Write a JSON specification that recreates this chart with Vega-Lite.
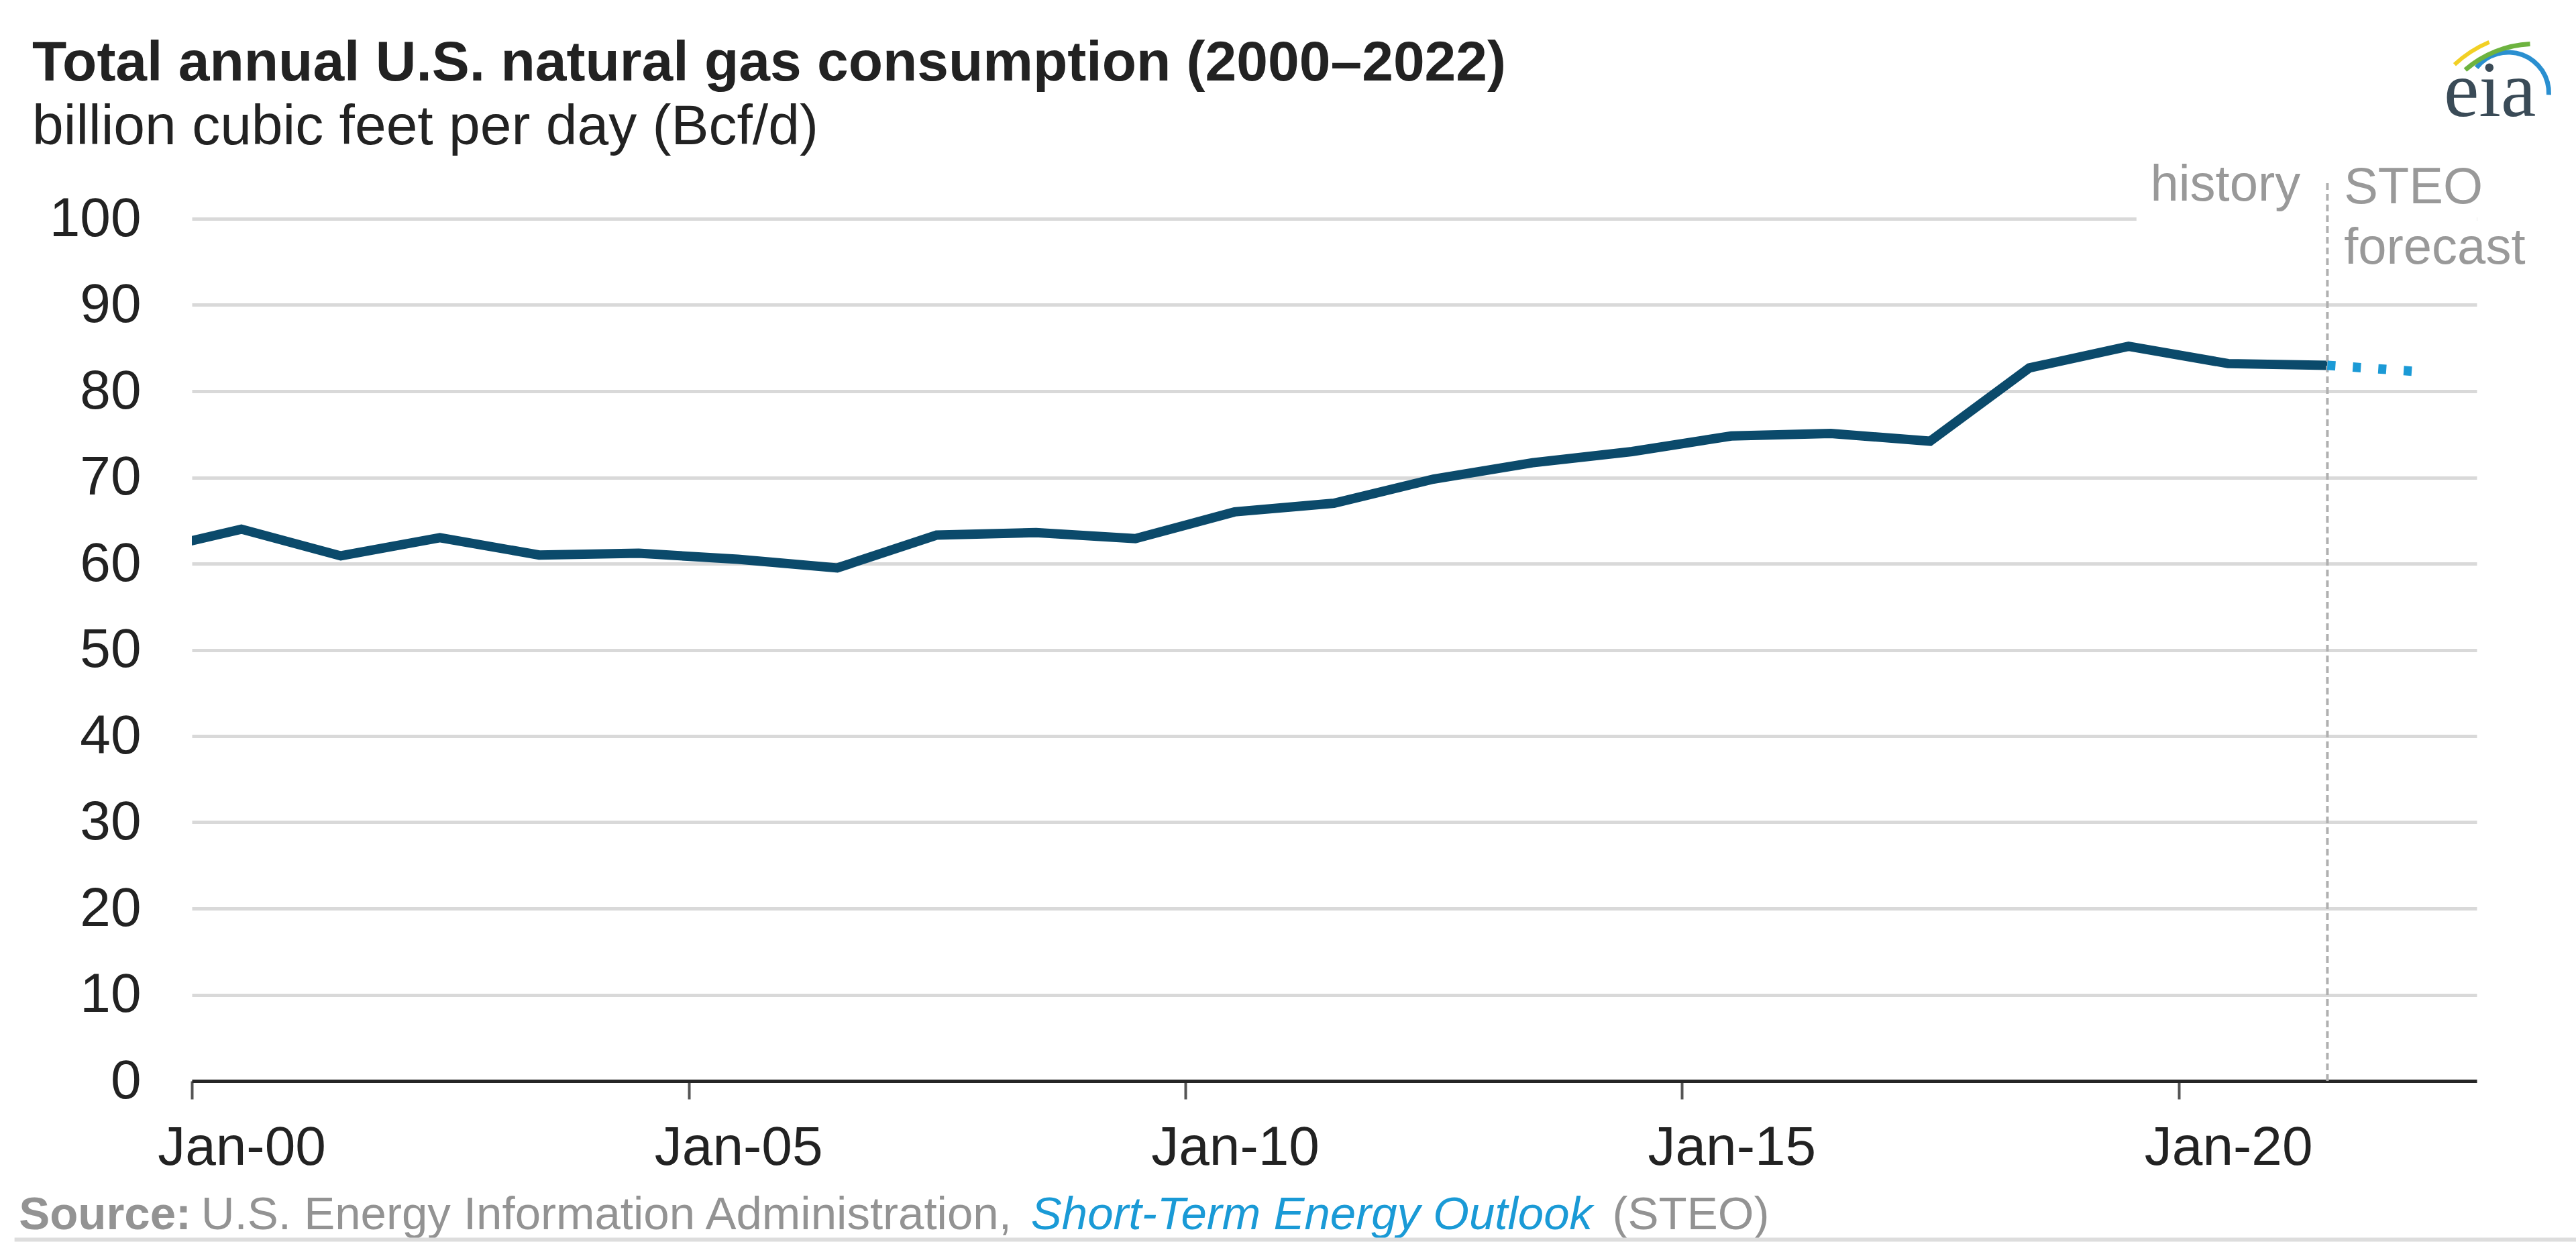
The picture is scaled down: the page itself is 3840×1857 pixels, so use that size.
{
  "$schema": "https://vega.github.io/schema/vega-lite/v6.json",
  "autosize": {"type": "none"},
  "width": 3406,
  "height": 1285,
  "padding": {"left": 286, "top": 326, "right": 148, "bottom": 246},
  "background": "white",
  "config": {"view": {"stroke": null}, "font": "Liberation Sans"},
  "title": {
    "text": "Total annual U.S. natural gas consumption (2000–2022)",
    "subtitle": "billion cubic feet per day (Bcf/d)",
    "anchor": "start",
    "frame": "group",
    "dx": -238,
    "offset": -173,
    "font": "Liberation Sans",
    "fontSize": 84,
    "fontWeight": "bold",
    "color": "#222222",
    "subtitleFont": "Liberation Sans",
    "subtitleFontSize": 84,
    "subtitleColor": "#222222",
    "subtitlePadding": 11
  },
  "resolve": {"axis": {"x": "independent", "y": "independent"}},
  "datasets": {
    "history": [
      {"date": "1999-07-01", "value": 61.3},
      {"date": "2000-07-01", "value": 64.0},
      {"date": "2001-07-01", "value": 60.9},
      {"date": "2002-07-01", "value": 63.0},
      {"date": "2003-07-01", "value": 61.0},
      {"date": "2004-07-01", "value": 61.2},
      {"date": "2005-07-01", "value": 60.5},
      {"date": "2006-07-01", "value": 59.5},
      {"date": "2007-07-01", "value": 63.3},
      {"date": "2008-07-01", "value": 63.6},
      {"date": "2009-07-01", "value": 62.9},
      {"date": "2010-07-01", "value": 66.0},
      {"date": "2011-07-01", "value": 67.0},
      {"date": "2012-07-01", "value": 69.8},
      {"date": "2013-07-01", "value": 71.7},
      {"date": "2014-07-01", "value": 73.0},
      {"date": "2015-07-01", "value": 74.8},
      {"date": "2016-07-01", "value": 75.1},
      {"date": "2017-07-01", "value": 74.2},
      {"date": "2018-07-01", "value": 82.7},
      {"date": "2019-07-01", "value": 85.2},
      {"date": "2020-07-01", "value": 83.2},
      {"date": "2021-07-01", "value": 83.0}
    ],
    "forecast": [
      {"date": "2021-07-01", "value": 83.0},
      {"date": "2022-07-01", "value": 82.2}
    ]
  },
  "layer": [
    {
      "data": {"name": "history"},
      "mark": {"type": "line", "clip": true, "color": "#0b4a6b", "strokeWidth": 14},
      "encoding": {
        "x": {
          "field": "date",
          "type": "temporal",
          "scale": {
            "type": "utc",
            "domain": [
              {"year": 2000, "month": 1, "date": 1, "utc": true},
              {"year": 2023, "month": 1, "date": 1, "utc": true}
            ]
          },
          "axis": {
            "values": [
              {"year": 2000, "month": 1, "date": 1, "utc": true},
              {"year": 2005, "month": 1, "date": 1, "utc": true},
              {"year": 2010, "month": 1, "date": 1, "utc": true},
              {"year": 2015, "month": 1, "date": 1, "utc": true},
              {"year": 2020, "month": 1, "date": 1, "utc": true}
            ],
            "labelExpr": "'Jan-' + utcFormat(datum.value, '%y')",
            "title": null,
            "grid": false,
            "domainColor": "#262626",
            "domainWidth": 5,
            "tickColor": "#555555",
            "tickWidth": 4,
            "tickSize": 27,
            "labelPadding": 32,
            "labelFont": "Liberation Sans",
            "labelFontSize": 82,
            "labelColor": "#222222",
            "labelOffset": 74,
            "labelLimit": 0,
            "labelFlush": false,
            "labelOverlap": false,
            "labelBound": false
          }
        },
        "y": {
          "field": "value",
          "type": "quantitative",
          "scale": {"domain": [0, 100], "nice": false, "zero": true},
          "axis": {
            "values": [0, 10, 20, 30, 40, 50, 60, 70, 80, 90, 100],
            "title": null,
            "domain": false,
            "ticks": false,
            "tickSize": 0,
            "labelPadding": 76,
            "labelFont": "Liberation Sans",
            "labelFontSize": 82,
            "labelColor": "#222222",
            "labelLimit": 0,
            "grid": true,
            "gridColor": "#d9d9d9",
            "gridWidth": 5
          }
        }
      }
    },
    {
      "data": {"values": [{"x": "2019-07-30", "x2": "2023-01-01", "y": 99.5, "y2": 100.5}]},
      "mark": {"type": "rect", "color": "white"},
      "encoding": {
        "x": {"field": "x", "type": "temporal", "axis": null},
        "x2": {"field": "x2"},
        "y": {"field": "y", "type": "quantitative", "axis": null},
        "y2": {"field": "y2"}
      }
    },
    {
      "data": {"values": [{}]},
      "mark": {"type": "rule", "color": "#b0b0b0", "strokeWidth": 4, "strokeDash": [10, 6]},
      "encoding": {
        "x": {"datum": {"year": 2021, "month": 7, "date": 1, "utc": true}, "type": "temporal", "axis": null},
        "y": {"datum": 0, "type": "quantitative", "axis": null},
        "y2": {"datum": 104.6}
      }
    },
    {
      "data": {"name": "forecast"},
      "mark": {"type": "line", "color": "#1b9ad6", "strokeWidth": 14, "strokeDash": [12, 26], "strokeCap": "butt"},
      "encoding": {
        "x": {"field": "date", "type": "temporal", "axis": null},
        "y": {"field": "value", "type": "quantitative", "axis": null}
      }
    },
    {
      "data": {"values": [{"label": "history"}]},
      "mark": {"type": "text", "align": "right", "baseline": "alphabetic", "font": "Liberation Sans", "fontSize": 76, "color": "#999999"},
      "encoding": {
        "x": {"datum": {"year": 2021, "month": 3, "date": 24, "utc": true}, "type": "temporal", "axis": null},
        "y": {"datum": 102.1, "type": "quantitative", "axis": null},
        "text": {"field": "label"}
      }
    },
    {
      "data": {"values": [{"label": "STEO\nforecast"}]},
      "mark": {"type": "text", "align": "left", "baseline": "alphabetic", "lineBreak": "\n", "lineHeight": 90, "font": "Liberation Sans", "fontSize": 76, "color": "#999999"},
      "encoding": {
        "x": {"datum": {"year": 2021, "month": 8, "date": 31, "utc": true}, "type": "temporal", "axis": null},
        "y": {"datum": 101.8, "type": "quantitative", "axis": null},
        "text": {"field": "label"}
      }
    },
    {
      "data": {"values": [{"label": "Source:"}]},
      "mark": {"type": "text", "align": "left", "baseline": "alphabetic", "font": "Liberation Sans", "fontSize": 69, "fontWeight": "bold", "color": "#939393"},
      "encoding": {
        "x": {"datum": {"year": 1998, "month": 4, "date": 5, "utc": true}, "type": "temporal", "axis": null},
        "y": {"datum": -17.2, "type": "quantitative", "axis": null},
        "text": {"field": "label"}
      }
    },
    {
      "data": {"values": [{"label": "U.S. Energy Information Administration,"}]},
      "mark": {"type": "text", "align": "left", "baseline": "alphabetic", "font": "Liberation Sans", "fontSize": 69, "color": "#939393"},
      "encoding": {
        "x": {"datum": {"year": 2000, "month": 2, "date": 4, "utc": true}, "type": "temporal", "axis": null},
        "y": {"datum": -17.2, "type": "quantitative", "axis": null},
        "text": {"field": "label"}
      }
    },
    {
      "data": {"values": [{"label": "Short-Term Energy Outlook"}]},
      "mark": {"type": "text", "align": "left", "baseline": "alphabetic", "font": "Liberation Sans", "fontSize": 69, "fontStyle": "italic", "color": "#1a9ad6"},
      "encoding": {
        "x": {"datum": {"year": 2008, "month": 6, "date": 12, "utc": true}, "type": "temporal", "axis": null},
        "y": {"datum": -17.2, "type": "quantitative", "axis": null},
        "text": {"field": "label"}
      }
    },
    {
      "data": {"values": [{"label": "(STEO)"}]},
      "mark": {"type": "text", "align": "left", "baseline": "alphabetic", "font": "Liberation Sans", "fontSize": 69, "color": "#939393"},
      "encoding": {
        "x": {"datum": {"year": 2014, "month": 4, "date": 20, "utc": true}, "type": "temporal", "axis": null},
        "y": {"datum": -17.2, "type": "quantitative", "axis": null},
        "text": {"field": "label"}
      }
    },
    {
      "data": {"values": [{}]},
      "mark": {"type": "rule", "color": "#dddddd", "strokeWidth": 6},
      "encoding": {
        "x": {"datum": {"year": 1998, "month": 3, "date": 20, "utc": true}, "type": "temporal", "axis": null},
        "x2": {"datum": {"year": 2024, "month": 1, "date": 1, "utc": true}},
        "y": {"datum": -18.4, "type": "quantitative", "axis": null}
      }
    },
    {
      "data": {"values": [{"label": "eia"}]},
      "mark": {"type": "text", "align": "left", "baseline": "alphabetic", "font": "Liberation Serif", "fontSize": 118, "color": "#3a4b57"},
      "encoding": {
        "x": {"datum": {"year": 2022, "month": 9, "date": 2, "utc": true}, "type": "temporal", "axis": null},
        "y": {"datum": 111.9, "type": "quantitative", "axis": null},
        "text": {"field": "label"}
      }
    },
    {
      "data": {"values": [{}]},
      "mark": {"type": "arc", "radius": 64, "radius2": 57, "theta": -0.9, "theta2": 1.62, "color": "#2a8fd0"},
      "encoding": {
        "x": {"datum": {"year": 2023, "month": 4, "date": 27, "utc": true}, "type": "temporal", "axis": null},
        "y": {"datum": 114.6, "type": "quantitative", "axis": null}
      }
    },
    {
      "data": {"values": [{}]},
      "mark": {"type": "arc", "radius": 164, "radius2": 157, "theta": -0.71, "theta2": -0.05, "color": "#6db33f"},
      "encoding": {
        "x": {"datum": {"year": 2023, "month": 8, "date": 5, "utc": true}, "type": "temporal", "axis": null},
        "y": {"datum": 107.8, "type": "quantitative", "axis": null}
      }
    },
    {
      "data": {"values": [{}]},
      "mark": {"type": "arc", "radius": 180, "radius2": 174, "theta": -0.75, "theta2": -0.4, "color": "#f2d024"},
      "encoding": {
        "x": {"datum": {"year": 2023, "month": 8, "date": 5, "utc": true}, "type": "temporal", "axis": null},
        "y": {"datum": 107.8, "type": "quantitative", "axis": null}
      }
    }
  ]
}
